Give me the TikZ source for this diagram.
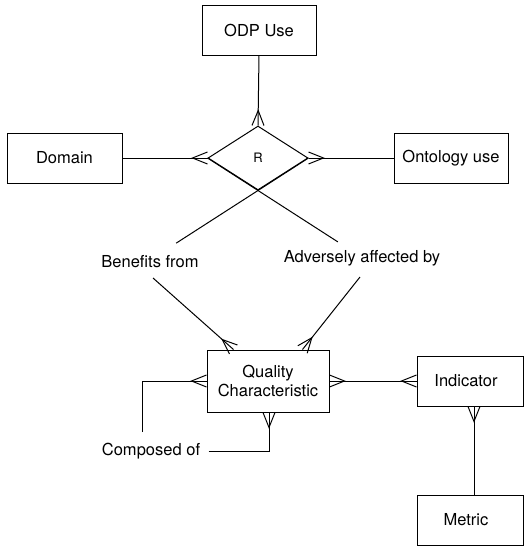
\documentclass[tikz,border=0pt]{standalone}
\usepackage{fontspec}
\setmainfont{TeX Gyre Heros}
\usetikzlibrary{arrows.meta,shapes.geometric,calc}
\pgfdeclarearrow{
  name = crow,
  setup code = {
    \pgfarrowssettipend{0pt}
    \pgfarrowssetlineend{0pt}
    \pgfarrowssetbackend{-15pt}
    \pgfarrowshullpoint{0pt}{6pt}
    \pgfarrowshullpoint{0pt}{-6pt}
    \pgfarrowshullpoint{-15pt}{0pt}
  },
  drawing code = {
    \pgfpathmoveto{\pgfqpoint{0pt}{6pt}}
    \pgfpathlineto{\pgfqpoint{-15pt}{0pt}}
    \pgfpathlineto{\pgfqpoint{0pt}{-6pt}}
    \pgfusepathqstroke
  },
  defaults = {}
}
\begin{document}
\begin{tikzpicture}[x=1pt,y=-1pt,line width=1pt,
  every node/.style={font=\fontsize{16.5}{19}\selectfont},
  entity/.style={draw,rectangle,minimum height=50pt,inner sep=0pt,align=center},
  lbl/.style={inner sep=2pt},
  conn/.style={-crow}]
\useasboundingbox (0,0) rectangle (524,549);
% entities
\node[entity,minimum width=114pt] (ODP) at (259,30) {ODP Use};
\node[entity,minimum width=115pt] (Dom) at (64.5,158) {Domain};
\node[entity,minimum width=114pt] (Ont) at (451,158) {Ontology use};
\node[entity,minimum width=122pt,minimum height=62pt] (QC) at (268,381) {Quality\\Characteristic};
\node[entity,minimum width=106pt] (Ind) at (470,381) {Indicator\hspace*{8pt}};
\node[entity,minimum width=106pt] (Met) at (470,520) {Metric\hspace*{8pt}};
% relationship
\node[draw,diamond,minimum width=100pt,minimum height=64pt,inner sep=0pt,
  font=\fontsize{13}{15}\selectfont] (R) at (258,158) {R};
% labels
\node[lbl] (Ben) at (150,262) {Benefits from};
\node[lbl] (Adv) at (362,258) {Adversely affected by};
\node[lbl,inner xsep=8pt] (Comp) at (151,451) {Composed of};
\coordinate (b1) at (153,278);
\coordinate (a1) at (360,277);
\coordinate (c1) at (142,432);
% connectors
\draw[conn] (ODP.south) -- (R.north);
\draw[conn] (Dom.east) -- (R.west);
\draw[conn] (Ont.west) -- (R.east);
\draw (R.east) -- ($(R.east)!2.62!(R.south)$);
\draw (R.west) -- ($(R.west)!2.58!(R.south)$);
\draw[conn] (b1) -- ([xshift=27pt]QC.north west);
\draw[conn] (a1) -- ([xshift=-27pt]QC.north east);
\draw[crow-crow] (QC.east) -- (Ind.west);
\draw[conn] ([xshift=4pt]Met.north) -- ([xshift=4pt]Ind.south);
\draw[conn] (c1) |- (QC.west);
\draw[conn] (Comp.east) -| ([xshift=1pt]QC.south);
\end{tikzpicture}
\end{document}
